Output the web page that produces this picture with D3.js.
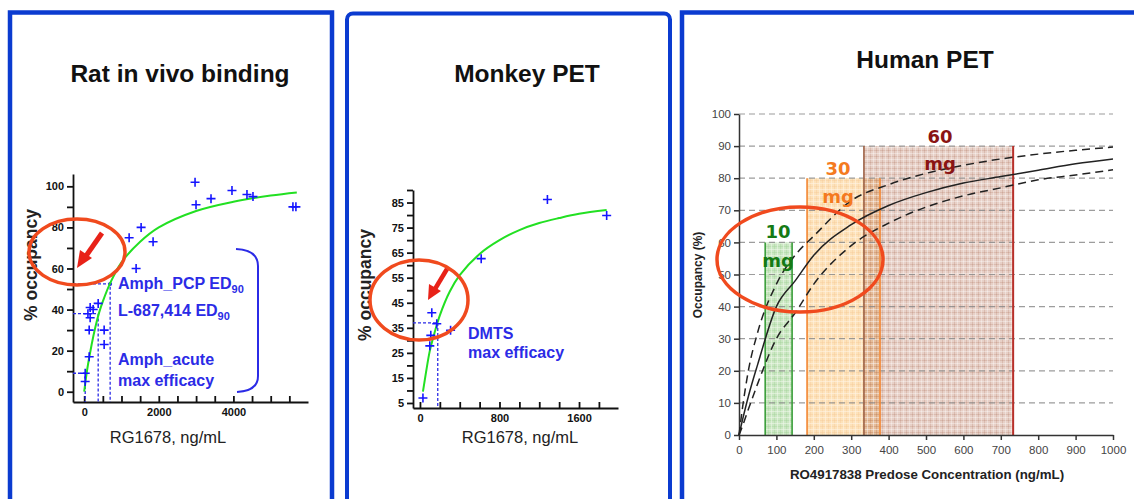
<!DOCTYPE html>
<html><head><meta charset="utf-8">
<script src="https://cdn.jsdelivr.net/npm/d3@7"></script>
<style>body{margin:0;background:#fff;} svg{display:block;font-family:"Liberation Sans",Arial,sans-serif;}</style>
</head><body><svg id="c" width="1134" height="499"></svg>
<script>
// ---------------- data ----------------
const panelTitles = ["Rat in vivo binding", "Monkey PET", "Human PET"];

// Rat in vivo binding
const ratObsConc = [2972, 2998, 3400, 3962, 4364, 4525, 5596, 5676, 1205, 1526, 1847, 1392, 160, 375, 160, 134, 535, 535, 134, 27, 27, 240, 100];
const ratObsOcc  = [102, 91, 94, 98, 96, 95, 90, 90, 75, 80, 73, 60, 41, 43, 36, 30, 30, 23, 17, 9, 5, 40, 38];
const ratFitConc = [0, 50, 100, 200, 300, 400, 500, 700, 1000, 1500, 2000, 3000, 4000, 5000, 5700];
const ratFitOcc  = [0, 7, 13, 23, 31.5, 38.5, 44, 53, 63, 73, 80, 88, 92.5, 95.5, 97];
const ratGuideConc = [27, 375, 696];
const ratGuideOcc  = [9, 38, 52.5];
const ratXTicks = [0, 2000, 4000];
const ratYTicks = [0, 20, 40, 60, 80, 100];

// Monkey PET
const monkeyObsConc = [1282, 1878, 616, 119, 169, 109, 99, 308, 30];
const monkeyObsOcc  = [86.2, 79.8, 62.6, 41, 36.6, 32, 27.8, 34, 7];
const monkeyFitConc = [30, 60, 100, 150, 200, 300, 400, 600, 800, 1000, 1200, 1400, 1600, 1878];
const monkeyFitOcc  = [9.5, 17, 26, 33.5, 40, 49.5, 56, 64.5, 70, 74, 76.8, 78.8, 80.5, 82];
const monkeyGuideConc = [179];
const monkeyGuideOcc  = [37];
const monkeyXTicks = [0, 800, 1600];
const monkeyYTicks = [5, 15, 25, 35, 45, 55, 65, 75, 85];

// Human PET
const humanConc   = [0, 10, 25, 50, 100, 150, 200, 300, 400, 500, 600, 700, 800, 900, 1000];
const humanMedian = [0, 5, 12, 22, 40, 48, 56, 65.5, 71.5, 75.5, 78.5, 80.5, 82.5, 84.5, 86];
const humanUpper  = [0, 9, 20, 32, 47, 56, 62, 73, 78, 81.5, 84, 86, 87.5, 88.7, 89.7];
const humanLower  = [0, 3, 8, 16, 30, 38, 47, 59, 66, 71, 74.5, 77, 79.5, 81, 82.6];
const doseMg   = ["10", "30", "60"];
const doseLow  = [70, 182, 334];
const doseHigh = [142, 377, 733];
const doseTop  = [60, 80, 90];
const humanXTicks = [0, 100, 200, 300, 400, 500, 600, 700, 800, 900, 1000];
const humanYTicks = [0, 10, 20, 30, 40, 50, 60, 70, 80, 90, 100];

// ---------------- drawing ----------------
const svg = d3.select("#c");
const BLUE = "#2b2be6", RED = "#f04a1e", FIT = "#22e022", FRAME = "#0b3bd0";
const defs = svg.append("defs");

function pattern(id, base, dark, light, baseOp, darkOp, lightOp) {
  const p = defs.append("pattern").attr("id", id).attr("width", 6).attr("height", 6)
    .attr("patternUnits", "userSpaceOnUse");
  p.append("rect").attr("width", 6).attr("height", 6).attr("fill", base).attr("fill-opacity", baseOp);
  p.append("path").attr("d", "M0,0.5H6M0.5,0V6").attr("stroke", dark).attr("stroke-opacity", darkOp).attr("stroke-width", 1);
  p.append("path").attr("d", "M0,3.5H6M3.5,0V6").attr("stroke", light).attr("stroke-opacity", lightOp).attr("stroke-width", 1);
}
pattern("pGreen", "#cbe7c3", "#a3d198", "#eef8eb", 1, 0.4, 0.55);
pattern("pOrange", "#fde2ba", "#f6c995", "#fff3e2", 1, 0.4, 0.6);
pattern("pBrown", "#b8775a", "#9a5a40", "#ffffff", 0.34, 0.18, 0.35);

// frames
svg.append("rect").attr("x", 10).attr("y", 12.5).attr("width", 322).attr("height", 600)
  .attr("fill", "none").attr("stroke", FRAME).attr("stroke-width", 4.5);
svg.append("rect").attr("x", 347).attr("y", 13.5).attr("width", 323).attr("height", 600).attr("rx", 6)
  .attr("fill", "none").attr("stroke", FRAME).attr("stroke-width", 4);
svg.append("rect").attr("x", 682).attr("y", 12.5).attr("width", 600).attr("height", 600)
  .attr("fill", "none").attr("stroke", FRAME).attr("stroke-width", 4.5);

// titles
const titleX = [180, 527, 925], titleY = [82, 82, 68];
panelTitles.forEach((t, i) => svg.append("text").attr("x", titleX[i]).attr("y", titleY[i])
  .attr("text-anchor", "middle").attr("font-size", 24.5).attr("font-weight", "bold").attr("fill", "#111").text(t));

function plus(g, xs, ys) {
  g.selectAll(null).data(xs).enter().append("path")
    .attr("d", (d, i) => { const px = xs[i], py = ys[i]; return `M${px - 4.5},${py}H${px + 4.5}M${px},${py - 4.5}V${py + 4.5}`; })
    .attr("stroke", "#1515ff").attr("stroke-width", 1.6).attr("fill", "none");
}

function styleAxis(g, size, weight, fill) {
  g.attr("font-family", null).attr("font-size", null);
  g.selectAll("text").attr("font-size", size).attr("font-weight", weight).attr("fill", fill);
}

const smooth = d3.line().curve(d3.curveCatmullRom.alpha(0.5));

// ---------- Panel 1: Rat ----------
{
  const x = d3.scaleLinear([-300, 6000], [73, 308]);
  const y = d3.scaleLinear([-5, 106], [402, 174]);
  const g = svg.append("g");
  const ya = g.append("g").attr("transform", `translate(${x.range()[0]},0)`)
    .call(d3.axisLeft(y).tickValues(d3.range(0, 101, 10)).tickSize(6).tickSizeOuter(0).tickPadding(3)
      .tickFormat(d => ratYTicks.includes(d) ? d : ""));
  const xa = g.append("g").attr("transform", `translate(0,${y.range()[0]})`)
    .call(d3.axisBottom(x).tickValues(d3.range(0, 5501, 500)).tickSizeInner(-6).tickSizeOuter(0).tickPadding(6)
      .tickFormat(d => ratXTicks.includes(d) ? d : ""));
  [ya, xa].forEach(a => { styleAxis(a, 11, "bold", "#111"); a.selectAll("path,line").attr("stroke", "#111").attr("stroke-width", 1.8); });

  ratGuideConc.forEach((c, i) => {
    g.append("path").attr("d", `M${x.range()[0]},${y(ratGuideOcc[i])}H${x(c)}V${y.range()[0]}`)
      .attr("fill", "none").attr("stroke", BLUE).attr("stroke-width", 1.3).attr("stroke-dasharray", "3,2");
  });
  g.append("circle").attr("cx", x(ratGuideConc[2])).attr("cy", y(ratGuideOcc[2])).attr("r", 2).attr("fill", BLUE);

  g.append("path").datum(ratFitConc.map((c, i) => [x(c), y(ratFitOcc[i])]))
    .attr("d", smooth).attr("fill", "none").attr("stroke", FIT).attr("stroke-width", 2);
  plus(g, ratObsConc.map(x), ratObsOcc.map(y));

  g.append("text").attr("x", 168).attr("y", 443).attr("text-anchor", "middle").attr("font-size", 16.5).attr("fill", "#222").text("RG1678, ng/mL");
  g.append("text").attr("transform", "translate(37,265) rotate(-90)").attr("text-anchor", "middle")
    .attr("font-size", 17.5).attr("font-weight", "bold").attr("fill", "#222").text("% occupancy");

  const t1 = g.append("text").attr("x", 118).attr("y", 289).attr("font-size", 16).attr("font-weight", "bold").attr("fill", BLUE);
  t1.append("tspan").text("Amph_PCP ED");
  t1.append("tspan").attr("dy", 4).attr("font-size", 11).text("90");
  const t2 = g.append("text").attr("x", 118).attr("y", 316).attr("font-size", 16).attr("font-weight", "bold").attr("fill", BLUE);
  t2.append("tspan").text("L-687,414 ED");
  t2.append("tspan").attr("dy", 4).attr("font-size", 11).text("90");
  g.append("text").attr("x", 118).attr("y", 365).attr("font-size", 16).attr("font-weight", "bold").attr("fill", BLUE).text("Amph_acute");
  g.append("text").attr("x", 118).attr("y", 386).attr("font-size", 16).attr("font-weight", "bold").attr("fill", BLUE).text("max efficacy");
  g.append("path").attr("d", "M236,249 Q258,250 258,266 L258,376 Q258,391 237,392")
    .attr("fill", "none").attr("stroke", BLUE).attr("stroke-width", 2);

  g.append("ellipse").attr("cx", 77).attr("cy", 252).attr("rx", 48).attr("ry", 33)
    .attr("fill", "none").attr("stroke", RED).attr("stroke-width", 3.5);
  g.append("line").attr("x1", 102).attr("y1", 233).attr("x2", 86).attr("y2", 256).attr("stroke", "#e82218").attr("stroke-width", 5);
  g.append("path").attr("d", "M77,268 L80,250 L92,258 Z").attr("fill", "#e82218");
}

// ---------- Panel 2: Monkey ----------
{
  const x = d3.scaleLinear([-70, 1992], [413, 618]);
  const y = d3.scaleLinear([3, 90], [408, 190]);
  const g = svg.append("g");
  const ya = g.append("g").attr("transform", `translate(${x.range()[0]},0)`)
    .call(d3.axisLeft(y).tickValues(d3.range(5, 91, 5)).tickSize(6).tickSizeOuter(0).tickPadding(3)
      .tickFormat(d => monkeyYTicks.includes(d) ? d : ""));
  const xa = g.append("g").attr("transform", `translate(0,${y.range()[0]})`)
    .call(d3.axisBottom(x).tickValues(d3.range(0, 1801, 200)).tickSizeInner(-6).tickSizeOuter(0).tickPadding(6)
      .tickFormat(d => monkeyXTicks.includes(d) ? d : ""));
  [ya, xa].forEach(a => { styleAxis(a, 11, "bold", "#111"); a.selectAll("path,line").attr("stroke", "#111").attr("stroke-width", 1.8); });

  monkeyGuideConc.forEach((c, i) => {
    g.append("path").attr("d", `M${x.range()[0]},${y(monkeyGuideOcc[i])}H${x(c)}V${y.range()[0]}`)
      .attr("fill", "none").attr("stroke", BLUE).attr("stroke-width", 1.3).attr("stroke-dasharray", "3,2");
  });
  g.append("path").datum(monkeyFitConc.map((c, i) => [x(c), y(monkeyFitOcc[i])]))
    .attr("d", smooth).attr("fill", "none").attr("stroke", FIT).attr("stroke-width", 2);
  plus(g, monkeyObsConc.map(x), monkeyObsOcc.map(y));

  g.append("text").attr("x", 520).attr("y", 443).attr("text-anchor", "middle").attr("font-size", 16.5).attr("fill", "#222").text("RG1678, ng/mL");
  g.append("text").attr("transform", "translate(371,285) rotate(-90)").attr("text-anchor", "middle")
    .attr("font-size", 17.5).attr("font-weight", "bold").attr("fill", "#222").text("% occupancy");
  g.append("text").attr("x", 468).attr("y", 339).attr("font-size", 16).attr("font-weight", "bold").attr("fill", BLUE).text("DMTS");
  g.append("text").attr("x", 468).attr("y", 358).attr("font-size", 16).attr("font-weight", "bold").attr("fill", BLUE).text("max efficacy");

  g.append("ellipse").attr("cx", 419).attr("cy", 300).attr("rx", 49).attr("ry", 40)
    .attr("fill", "none").attr("stroke", RED).attr("stroke-width", 3.5);
  g.append("line").attr("x1", 447).attr("y1", 269).attr("x2", 435).attr("y2", 289).attr("stroke", "#e82218").attr("stroke-width", 4.5);
  g.append("path").attr("d", "M428,300 L429,284 L441,291 Z").attr("fill", "#e82218");
}

// ---------- Panel 3: Human ----------
{
  const x = d3.scaleLinear([0, 1000], [739, 1113]);
  const y = d3.scaleLinear([0, 100], [435, 114]);
  const g = svg.append("g");
  const fills = ["url(#pGreen)", "url(#pOrange)", "url(#pBrown)"];
  const edgeL = ["#3a9e3a", "#f3852f", "#a0654a"];
  const edgeR = ["#3a9e3a", "#f3852f", "#b8302a"];
  const labCol = ["#157a15", "#f47a20", "#8a1414"];

  doseMg.forEach((m, i) => {
    g.append("rect").attr("x", x(doseLow[i])).attr("y", y(doseTop[i]))
      .attr("width", x(doseHigh[i]) - x(doseLow[i])).attr("height", y(0) - y(doseTop[i])).attr("fill", fills[i]);
  });
  g.selectAll(null).data(humanYTicks.slice(1)).enter().append("line")
    .attr("x1", x(0)).attr("x2", x(1000)).attr("y1", d => y(d)).attr("y2", d => y(d))
    .attr("stroke", "#8c8c8c").attr("stroke-width", 1.2).attr("stroke-dasharray", "6,4").attr("opacity", 0.85);
  doseMg.forEach((m, i) => {
    g.append("line").attr("x1", x(doseLow[i])).attr("x2", x(doseLow[i])).attr("y1", y(doseTop[i])).attr("y2", y(0))
      .attr("stroke", edgeL[i]).attr("stroke-width", 1.6);
    g.append("line").attr("x1", x(doseHigh[i])).attr("x2", x(doseHigh[i])).attr("y1", y(doseTop[i])).attr("y2", y(0))
      .attr("stroke", edgeR[i]).attr("stroke-width", i === 2 ? 2 : 1.6);
  });

  const ya = g.append("g").attr("transform", `translate(${x(0)},0)`)
    .call(d3.axisLeft(y).tickValues(humanYTicks).tickSize(5).tickSizeOuter(0).tickPadding(3).tickFormat(d3.format("d")));
  const xa = g.append("g").attr("transform", `translate(0,${y(0)})`)
    .call(d3.axisBottom(x).tickValues(humanXTicks).tickSize(5).tickSizeOuter(0).tickPadding(6).tickFormat(d3.format("d")));
  [ya, xa].forEach(a => { styleAxis(a, 11.5, "normal", "#444"); a.selectAll("path,line").attr("stroke", "#333").attr("stroke-width", 1.5); });

  const line = d3.line().curve(d3.curveMonotoneX);
  const pts = arr => humanConc.map((c, i) => [x(c), y(arr[i])]);
  g.append("path").datum(pts(humanUpper)).attr("d", line).attr("fill", "none").attr("stroke", "#222").attr("stroke-width", 1.5).attr("stroke-dasharray", "8,5");
  g.append("path").datum(pts(humanLower)).attr("d", line).attr("fill", "none").attr("stroke", "#222").attr("stroke-width", 1.5).attr("stroke-dasharray", "8,5");
  g.append("path").datum(pts(humanMedian)).attr("d", line).attr("fill", "none").attr("stroke", "#222").attr("stroke-width", 1.5);

  const labX = [778, 838, 940], numY = [238, 175, 143], mgY = [267, 203, 170];
  doseMg.forEach((m, i) => {
    g.append("text").attr("x", labX[i]).attr("y", numY[i]).attr("text-anchor", "middle").attr("font-family", "DejaVu Sans")
      .attr("font-weight", "bold").attr("font-size", 18).attr("fill", labCol[i]).text(m);
    g.append("text").attr("x", labX[i]).attr("y", mgY[i]).attr("text-anchor", "middle").attr("font-family", "DejaVu Sans")
      .attr("font-weight", "bold").attr("font-size", 18).attr("fill", labCol[i]).text("mg");
  });

  g.append("text").attr("x", 927).attr("y", 479).attr("text-anchor", "middle").attr("font-size", 13.3).attr("font-weight", "bold")
    .attr("fill", "#222").text("RO4917838 Predose Concentration (ng/mL)");
  g.append("text").attr("transform", "translate(702,275) rotate(-90)").attr("text-anchor", "middle")
    .attr("font-size", 12).attr("font-weight", "bold").attr("fill", "#222").text("Occupancy (%)");

  g.append("ellipse").attr("cx", 800).attr("cy", 259.5).attr("rx", 83).attr("ry", 52.5)
    .attr("fill", "none").attr("stroke", RED).attr("stroke-width", 3.5);
}
</script></body></html>
